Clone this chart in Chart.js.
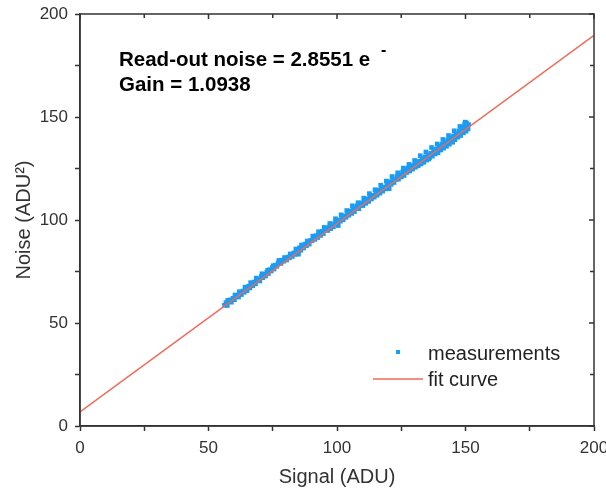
<!DOCTYPE html>
<html>
<head>
<meta charset="utf-8">
<script src="https://cdn.jsdelivr.net/npm/chart.js@4.4.1/dist/chart.umd.min.js"></script>
<style>
  html, body { margin: 0; padding: 0; background: #fff; }
  canvas { display: block; }
</style>
</head>
<body>
<canvas id="noiseChart" width="606" height="491"></canvas>
<script>
const signalAdu = [
  56.2, 56.8, 57.3, 57.9, 58.4, 58.9, 59.5, 60.1, 60.6, 61.2, 61.7, 62.3, 62.8, 63.4, 63.9,
  64.5, 65.0, 65.6, 66.1, 66.7, 67.2, 67.8, 68.3, 68.9, 69.4, 70.0, 70.5, 71.1, 71.6, 72.2,
  72.7, 73.3, 73.8, 74.4, 74.9, 75.5, 76.0, 76.6, 77.1, 77.7, 78.2, 78.8, 79.3, 79.9, 80.4,
  81.0, 81.5, 82.1, 82.6, 83.2, 83.7, 84.3, 84.8, 85.4, 85.9, 86.5, 87.0, 87.6, 88.1, 88.7,
  89.2, 89.8, 90.3, 90.9, 91.4, 92.0, 92.5, 93.1, 93.6, 94.2, 94.7, 95.3, 95.8, 96.4, 96.9,
  97.5, 98.0, 98.6, 99.1, 99.7, 100.2, 100.8, 101.3, 101.9, 102.4, 103.0, 103.5, 104.1, 104.6, 105.2,
  105.7, 106.3, 106.8, 107.4, 107.9, 108.5, 109.0, 109.6, 110.1, 110.7, 111.2, 111.8, 112.3, 112.9, 113.4,
  114.0, 114.5, 115.1, 115.6, 116.2, 116.7, 117.3, 117.8, 118.4, 118.9, 119.5, 120.0, 120.6, 121.1, 121.7,
  122.2, 122.8, 123.3, 123.9, 124.4, 125.0, 125.5, 126.1, 126.6, 127.2, 127.7, 128.3, 128.8, 129.4, 129.9,
  130.5, 131.0, 131.6, 132.1, 132.7, 133.2, 133.8, 134.3, 134.9, 135.4, 136.0, 136.5, 137.1, 137.6, 138.2,
  138.7, 139.3, 139.8, 140.4, 140.9, 141.5, 142.0, 142.6, 143.1, 143.7, 144.2, 144.8, 145.3, 145.9, 146.4,
  147.0, 147.5, 148.1, 148.6, 149.2, 149.7, 150.2, 150.6, 151.0, 150.4, 149.4,
  57.5, 60.3, 62.0, 64.2, 66.4, 68.6, 70.8, 73.0, 75.2, 77.4, 79.6, 81.8, 84.0, 86.2, 88.4,
  90.6, 92.8, 95.0, 97.2, 99.4, 101.6, 103.8, 106.0, 108.2, 110.4, 112.6, 114.8, 117.0, 119.2, 121.4,
  123.6, 125.8, 128.0, 130.2, 132.4, 134.6, 136.8, 139.0, 141.2, 143.4, 145.6, 147.8, 149.9, 151.2,
  100.5, 120.3, 135.7, 145.0, 85.0
];
const noiseAdu2 = [
  58.6, 59.9, 58.5, 60.6, 61.2, 60.1, 62.0, 61.3, 62.9, 63.4, 62.6, 64.6, 63.8, 65.5, 64.9,
  66.6, 65.7, 67.8, 67.0, 68.9, 68.1, 69.9, 69.0, 70.6, 71.2, 70.4, 72.5, 72.0, 73.6, 72.8,
  74.6, 74.0, 75.9, 75.2, 77.0, 76.2, 78.1, 77.5, 79.2, 79.8, 78.9, 80.5, 80.0, 81.2, 80.6,
  82.0, 81.6, 82.9, 82.3, 84.0, 83.3, 85.2, 84.6, 86.5, 85.3, 87.0, 86.4, 88.3, 87.5, 89.4,
  88.3, 90.1, 89.9, 91.6, 90.6, 92.4, 91.5, 93.6, 92.5, 94.5, 93.4, 95.3, 95.9, 94.9, 96.6,
  95.8, 97.5, 96.7, 98.3, 99.2, 98.2, 100.0, 99.4, 101.3, 100.1, 102.0, 101.3, 103.6, 102.3, 104.4,
  103.2, 105.6, 104.1, 105.8, 106.9, 105.5, 107.2, 108.3, 107.0, 109.4, 108.1, 110.3, 109.0, 111.2, 110.2,
  112.0, 111.1, 113.1, 112.0, 114.5, 113.0, 115.4, 114.0, 116.0, 115.1, 117.2, 116.0, 118.6, 117.3, 119.4,
  118.2, 119.6, 121.0, 119.8, 121.9, 120.9, 123.3, 121.6, 124.6, 123.1, 125.3, 123.8, 126.1, 124.7, 126.8,
  125.6, 127.9, 126.3, 128.6, 127.2, 129.7, 128.0, 130.6, 129.1, 131.6, 130.2, 132.4, 131.0, 133.6, 132.1,
  134.5, 132.6, 135.7, 134.0, 136.8, 134.9, 137.6, 135.8, 138.9, 136.8, 139.6, 137.9, 140.8, 139.0, 141.9,
  140.2, 143.2, 141.0, 144.4, 142.3, 146.6, 143.1, 145.6, 144.2, 147.1, 145.2,
  61.0, 63.6, 65.2, 67.4, 69.6, 71.8, 73.9, 75.6, 77.8, 80.4, 81.8, 83.5, 85.9, 87.9, 89.8,
  92.2, 94.3, 96.4, 98.3, 100.6, 102.5, 104.6, 106.9, 108.4, 110.6, 112.8, 114.7, 116.9, 118.9, 121.1,
  122.9, 125.2, 127.0, 128.9, 131.2, 133.0, 135.2, 136.9, 139.1, 141.0, 143.3, 145.4, 147.5, 146.3,
  97.3, 115.2, 129.6, 137.8, 83.4
];

// linear fit: noise = 6.81 + signal / 1.0938
const fitSignal = [0, 200];
const fitNoise = [6.81, 189.65];

const xRange = [0, 200];
const yRange = [0, 200];
const tickStep = 25;
const labelStep = 50;

const annotationLines = ['Read-out noise = 2.8551 e', 'Gain = 1.0938'];

const axisColor = '#333333';
const measColor = '#1a9cf4';
const fitColor = '#ef6a57';

const measPoints = signalAdu.map((x, i) => ({ x: x, y: noiseAdu2[i] }));
const fitPoints = fitSignal.map((x, i) => ({ x: x, y: fitNoise[i] }));

// frame with inward mirror ticks on top/right, plus text and legend
const decorations = {
  id: 'decorations',
  afterDraw(chart) {
    const { ctx, chartArea: a, scales: { x, y } } = chart;
    ctx.save();
    ctx.strokeStyle = axisColor;
    ctx.lineWidth = 1.5;
    ctx.strokeRect(a.left, a.top, a.right - a.left, a.bottom - a.top);

    ctx.beginPath();
    for (let v = xRange[0]; v <= xRange[1]; v += tickStep) {
      const px = x.getPixelForValue(v);
      const len = v % labelStep ? 4 : 5;
      ctx.moveTo(px, a.top);
      ctx.lineTo(px, a.top + len);
    }
    for (let v = yRange[0]; v <= yRange[1]; v += tickStep) {
      const py = y.getPixelForValue(v);
      const len = v % labelStep ? 4 : 5;
      ctx.moveTo(a.right, py);
      ctx.lineTo(a.right - len, py);
    }
    ctx.stroke();

    // annotation
    ctx.fillStyle = '#000';
    ctx.textBaseline = 'alphabetic';
    ctx.textAlign = 'left';
    ctx.font = 'bold 20.5px "Liberation Sans", Arial, sans-serif';
    ctx.fillText(annotationLines[0], 119, 66);
    ctx.fillText(annotationLines[1], 119, 91);
    ctx.font = 'bold 16px "Liberation Sans", Arial, sans-serif';
    ctx.fillText('-', 381, 55);

    // legend
    const ds = chart.data.datasets;
    ctx.font = '20px "Liberation Sans", Arial, sans-serif';
    ctx.fillStyle = measColor;
    ctx.fillRect(396, 350, 4, 4);
    ctx.strokeStyle = fitColor;
    ctx.lineWidth = 1.5;
    ctx.beginPath();
    ctx.moveTo(373, 379);
    ctx.lineTo(423, 379);
    ctx.stroke();
    ctx.fillStyle = '#222';
    ctx.fillText(ds[1].label, 428, 360);
    ctx.fillText(ds[0].label, 428, 386);
    ctx.restore();
  }
};

function tickLabel(v) {
  return v % labelStep === 0 ? String(v) : '';
}

const tickFont = { family: '"Liberation Sans", Arial, sans-serif', size: 17 };
const titleFont = { family: '"Liberation Sans", Arial, sans-serif', size: 20 };

new Chart(document.getElementById('noiseChart'), {
  type: 'scatter',
  plugins: [decorations],
  data: {
    datasets: [
      {
        label: 'fit curve',
        type: 'line',
        data: fitPoints,
        borderColor: fitColor,
        borderWidth: 1.5,
        pointRadius: 0,
        showLine: true,
        order: 0
      },
      {
        label: 'measurements',
        data: measPoints,
        backgroundColor: measColor,
        borderWidth: 0,
        pointStyle: 'rect',
        pointRadius: 3.3,
        order: 1
      }
    ]
  },
  options: {
    responsive: false,
    animation: false,
    events: [],
    layout: { padding: { top: 14, right: 12, left: 0, bottom: 0 } },
    plugins: {
      legend: { display: false },
      tooltip: { enabled: false }
    },
    scales: {
      x: {
        type: 'linear',
        min: xRange[0],
        max: xRange[1],
        afterFit(scale) {
          scale.height = 65;
          scale.paddingLeft = 0;
          scale.paddingRight = 0;
        },
        ticks: {
          stepSize: tickStep,
          autoSkip: false,
          maxRotation: 0,
          padding: 7,
          color: axisColor,
          font: tickFont,
          callback: tickLabel
        },
        grid: { drawOnChartArea: false, tickLength: 5, tickColor: axisColor, tickWidth: 1.5 },
        border: { color: axisColor, width: 1.5 },
        title: { display: true, text: 'Signal (ADU)', color: axisColor, font: titleFont, padding: { top: 0, bottom: 2 } }
      },
      y: {
        type: 'linear',
        min: yRange[0],
        max: yRange[1],
        afterFit(scale) {
          scale.width = 80;
          scale.paddingTop = 0;
          scale.paddingBottom = 0;
        },
        ticks: {
          stepSize: tickStep,
          autoSkip: false,
          padding: 7,
          color: axisColor,
          font: tickFont,
          callback: tickLabel
        },
        grid: { drawOnChartArea: false, tickLength: 5, tickColor: axisColor, tickWidth: 1.5 },
        border: { color: axisColor, width: 1.5 },
        title: { display: true, text: 'Noise (ADU²)', color: axisColor, font: titleFont, padding: { top: 12, bottom: 0 } }
      }
    }
  }
});
</script>
</body>
</html>
